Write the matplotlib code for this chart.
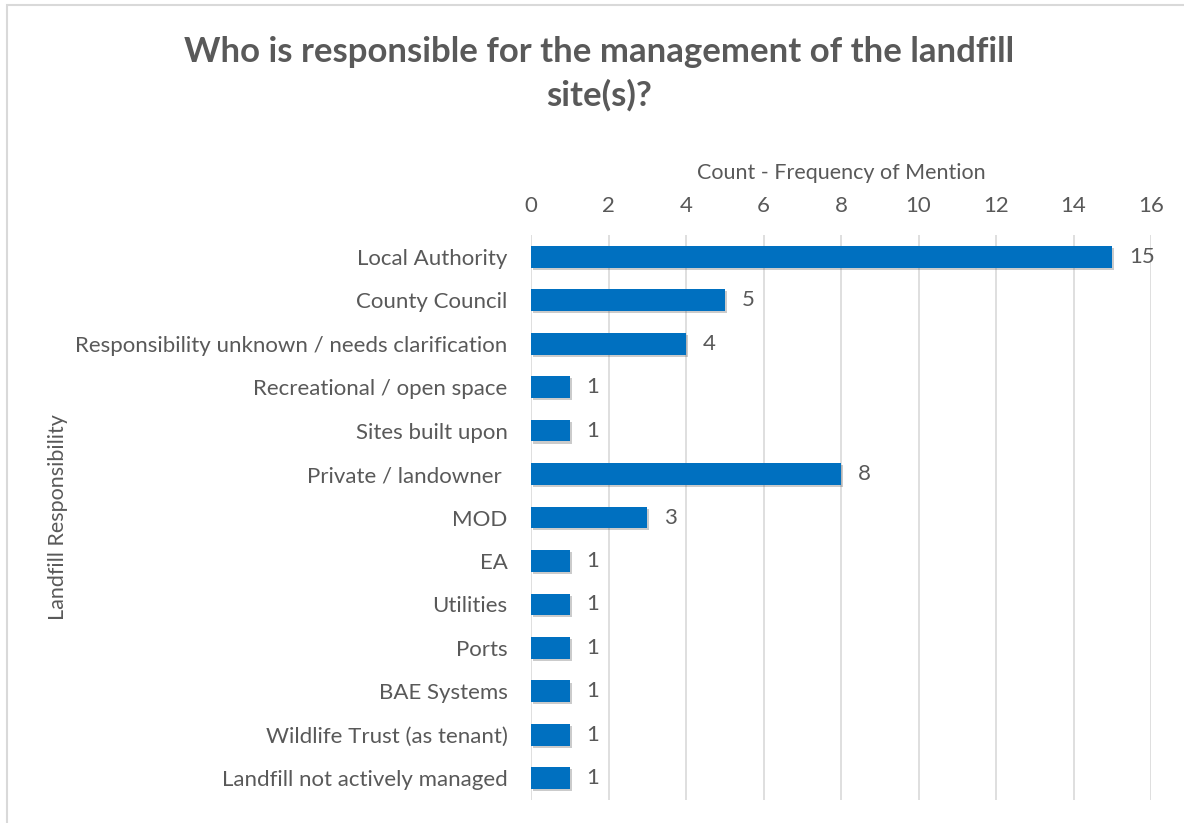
import matplotlib
matplotlib.use("Agg")
import matplotlib.pyplot as plt
import matplotlib.patheffects as pe
from matplotlib.patches import Rectangle

categories = [
    "Local Authority",
    "County Council",
    "Responsibility unknown / needs clarification",
    "Recreational / open space",
    "Sites built upon",
    "Private / landowner ",
    "MOD",
    "EA",
    "Utilities",
    "Ports",
    "BAE Systems",
    "Wildlife Trust (as tenant)",
    "Landfill not actively managed",
]
counts = [15, 5, 4, 1, 1, 8, 3, 1, 1, 1, 1, 1, 1]
x_ticks = [0, 2, 4, 6, 8, 10, 12, 14, 16]

TEXT = "#595959"
GRID = "#d9d9d9"
BAR = "#0070C0"
plt.rcParams["font.family"] = ["Lato", "DejaVu Sans"]

W, H = 1184, 823
fig = plt.figure(figsize=(W / 100, H / 100), dpi=100)

# chart frame
fig.patches.append(Rectangle((7 / W, -0.1), 1.2, 1 - 5 / H + 0.1,
                             transform=fig.transFigure, fill=False,
                             edgecolor=GRID, linewidth=1.5))

ax = fig.add_axes([531 / W, 1 - 800 / H, (1151 - 531) / W, (800 - 235) / H])
y = list(range(len(categories)))
bars = ax.barh(y, counts, height=0.5, color=BAR, zorder=3)
for b in bars:
    b.set_path_effects([pe.SimplePatchShadow(offset=(1.5, -1.5), shadow_rgbFace="#555555", alpha=0.3),
                        pe.Normal()])

ax.set_ylim(len(categories) - 0.5, -0.5)
ax.set_xlim(0, 16)
ax.set_xticks(x_ticks)
ax.xaxis.tick_top()
ax.xaxis.set_label_position("top")
ax.set_yticks(y)
ax.set_yticklabels(categories)
ax.tick_params(axis="both", length=0, labelsize=16, colors=TEXT)
ax.tick_params(axis="x", pad=14)
ax.tick_params(axis="y", pad=17)
ax.grid(axis="x", color=GRID, linewidth=1.2, zorder=0)
for s in ax.spines.values():
    s.set_visible(False)

for yi, v in zip(y, counts):
    ax.annotate(str(v), (v, yi), xytext=(12, 0), textcoords="offset points",
                va="center", ha="left", fontsize=16, color=TEXT)

ax.set_xlabel("Count - Frequency of Mention", fontsize=15.5, color=TEXT, labelpad=12)
fig.text(58 / W, 1 - 517 / H, "Landfill Responsibility", rotation=90,
         ha="center", va="center", fontsize=15.5, color=TEXT)

fig.text(599 / W, 1 - 74 / H,
         "Who is responsible for the management of the landfill\nsite(s)?",
         ha="center", va="center", fontsize=25, fontweight="bold",
         color=TEXT, linespacing=1.4)

fig.savefig("out.png", dpi=100, facecolor="white")
